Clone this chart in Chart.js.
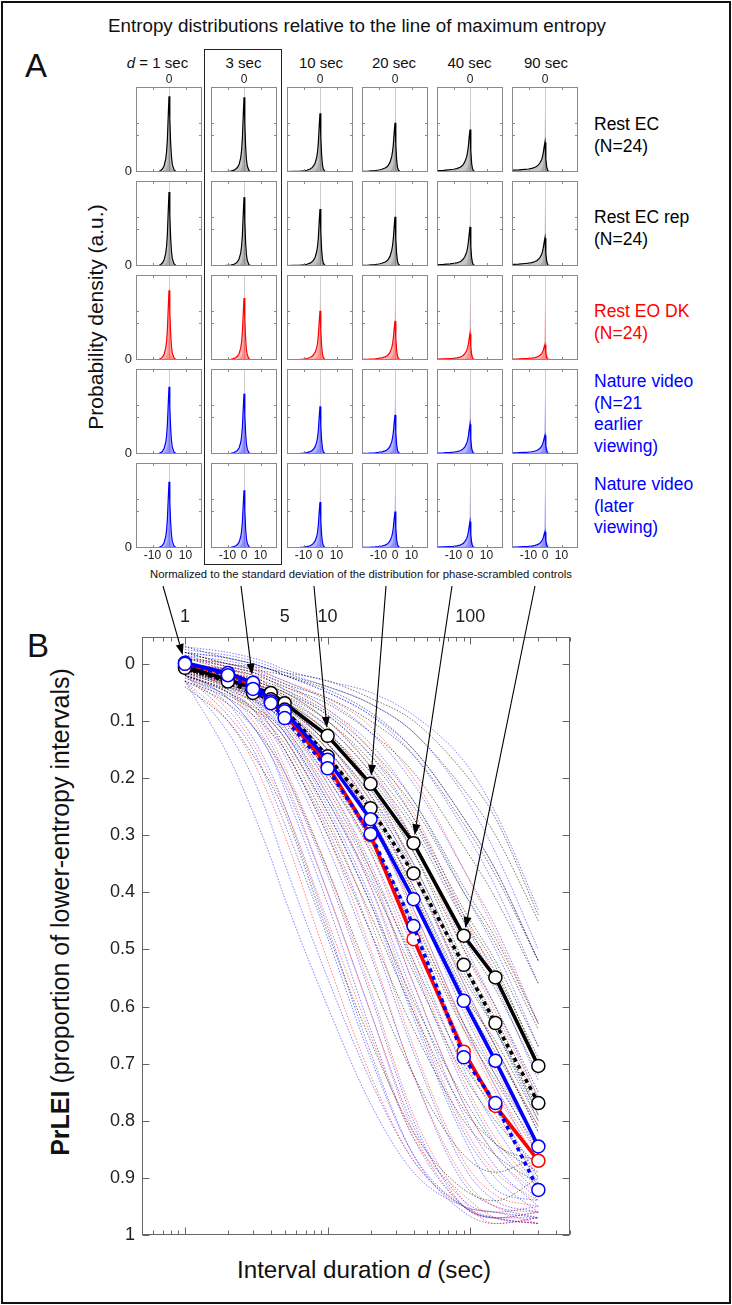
<!DOCTYPE html>
<html><head><meta charset="utf-8">
<script src="https://cdn.jsdelivr.net/npm/chart.js@4.4.1/dist/chart.umd.min.js"></script>
<style>
html,body{margin:0;padding:0;background:#fff;}
#page{position:relative;width:732px;height:1305px;overflow:hidden;font-family:"Liberation Sans",Arial,Helvetica,sans-serif;color:#111;background:#fff;}
.t{position:absolute;white-space:nowrap;line-height:1;transform:translate(-50%,-50%);}
.lbl{position:absolute;white-space:nowrap;font-size:17.5px;line-height:21.5px;}
canvas{position:absolute;}
</style></head><body><div id="page"></div>
<script>
// ---------------- DATA ----------------
// Panel A: entropy distributions (x grid, per-duration normalized shapes, per-row peak heights)
const distX      = [-20,-16,-12,-10,-8,-6,-5,-4,-3,-2,-1.5,-1,-0.5,0,0.5,1,1.5,2,3,4,20];
const shapeD1    = [0,0,0,0,0.003,0.01,0.02,0.04,0.08,0.17,0.26,0.42,0.72,1,0.70,0.38,0.20,0.10,0.03,0.01,0];
const shapeD3    = [0,0.002,0.005,0.008,0.012,0.025,0.04,0.06,0.10,0.19,0.28,0.44,0.73,1,0.66,0.33,0.16,0.08,0.02,0.005,0];
const shapeD10   = [0.005,0.01,0.015,0.02,0.03,0.05,0.07,0.10,0.15,0.25,0.34,0.50,0.77,1,0.60,0.28,0.12,0.05,0.01,0,0];
const shapeD20   = [0.015,0.02,0.03,0.04,0.055,0.08,0.10,0.14,0.20,0.31,0.41,0.56,0.80,1,0.55,0.24,0.10,0.04,0.01,0,0];
const shapeD40   = [0.03,0.04,0.055,0.065,0.08,0.11,0.14,0.18,0.25,0.36,0.46,0.60,0.82,1,0.50,0.20,0.08,0.03,0.005,0,0];
const shapeD90   = [0.06,0.07,0.09,0.10,0.12,0.16,0.19,0.24,0.31,0.42,0.52,0.66,0.85,1,0.45,0.18,0.06,0.02,0,0,0];
const controlShape = [0,0,0,0,0,0,0,0,0.02,0.05,0.08,0.14,0.35,1,0.35,0.14,0.08,0.05,0.02,0,0];
const durationHeaders = ["1 sec","3 sec","10 sec","20 sec","40 sec","90 sec"];
const peakRestEC    = [0.89,0.88,0.69,0.58,0.50,0.35];
const peakRestECrep = [0.87,0.81,0.67,0.58,0.46,0.33];
const peakRestEO    = [0.82,0.73,0.58,0.46,0.31,0.18];
const peakNatEarly  = [0.79,0.71,0.56,0.46,0.35,0.22];
const peakNatLate   = [0.78,0.68,0.54,0.43,0.31,0.19];
const ctrlRestEC    = [0.60,0.60,0.75,0.75,0.75,0.75];
const ctrlRestECrep = [0.60,0.60,0.75,0.75,0.75,0.75];
const ctrlRestEO    = [0.60,0.60,0.76,0.74,0.73,0.69];
const ctrlNatEarly  = [0.60,0.60,0.70,0.71,0.71,0.71];
const ctrlNatLate   = [0.60,0.60,0.70,0.72,0.72,0.72];
const smallXTicks = [-10,0,10];
const smallYTicks = [0.435,0.573];

// Panel B: PrLEI vs interval duration
const durations   = [1,2,3,4,5,10,20,40,90,150,300];
const meanRestEC    = [0.005,0.028,0.042,0.051,0.069,0.126,0.210,0.314,0.476,0.549,0.704];
const meanRestECrep = [0.007,0.031,0.051,0.062,0.080,0.162,0.253,0.367,0.527,0.629,0.769];
const meanRestEO    = [0.000,0.018,0.038,0.066,0.088,0.178,0.300,0.482,0.679,0.774,0.870];
const meanNatEarly  = [-0.002,0.016,0.033,0.066,0.083,0.168,0.272,0.412,0.590,0.695,0.845];
const meanNatLate   = [0.000,0.020,0.044,0.069,0.095,0.183,0.298,0.459,0.689,0.769,0.921];
const subjectsEC = [
 [-0.02,0.00,0.01,0.015,0.02,0.04,0.07,0.12,0.22,0.30,0.45],
 [-0.01,0.01,0.02,0.03,0.04,0.07,0.12,0.19,0.32,0.41,0.56],
 [0.00,0.02,0.03,0.04,0.05,0.09,0.16,0.25,0.40,0.49,0.64],
 [0.00,0.02,0.035,0.045,0.06,0.11,0.19,0.29,0.45,0.54,0.69],
 [0.01,0.03,0.04,0.05,0.065,0.12,0.20,0.31,0.48,0.57,0.72],
 [0.01,0.03,0.045,0.055,0.07,0.13,0.22,0.33,0.50,0.60,0.75],
 [0.01,0.035,0.05,0.06,0.08,0.15,0.25,0.37,0.55,0.64,0.78],
 [0.015,0.04,0.055,0.07,0.09,0.17,0.28,0.41,0.59,0.68,0.81],
 [0.02,0.045,0.065,0.08,0.10,0.20,0.32,0.46,0.64,0.73,0.85],
 [0.02,0.05,0.075,0.095,0.12,0.24,0.38,0.54,0.72,0.80,0.88],
 [0.03,0.06,0.09,0.12,0.15,0.30,0.47,0.64,0.80,0.86,0.91],
 [0.00,0.025,0.04,0.05,0.065,0.12,0.21,0.33,0.52,0.62,0.77],
 [0.005,0.03,0.05,0.06,0.075,0.14,0.23,0.35,0.53,0.63,0.79],
 [0.01,0.035,0.055,0.065,0.085,0.16,0.26,0.39,0.57,0.67,0.82],
 [0.04,0.10,0.16,0.21,0.26,0.47,0.66,0.82,0.92,0.94,0.90],
 [-0.03,-0.01,0.00,0.01,0.015,0.03,0.06,0.10,0.19,0.27,0.44],
 [-0.015,0.005,0.015,0.025,0.035,0.06,0.10,0.16,0.28,0.37,0.52],
 [0.025,0.055,0.08,0.10,0.13,0.26,0.42,0.59,0.76,0.84,0.87],
 [0.00,0.03,0.05,0.07,0.09,0.19,0.31,0.45,0.63,0.72,0.84],
 [0.01,0.04,0.06,0.08,0.11,0.22,0.36,0.52,0.70,0.78,0.87],
 [0.02,0.05,0.08,0.11,0.14,0.28,0.44,0.61,0.78,0.84,0.89],
 [-0.005,0.015,0.025,0.035,0.045,0.085,0.15,0.24,0.39,0.48,0.63],
 [0.005,0.02,0.035,0.045,0.055,0.10,0.17,0.27,0.43,0.52,0.67],
 [0.015,0.035,0.05,0.065,0.08,0.16,0.27,0.40,0.58,0.66,0.80],
 [-0.02,0.00,0.005,0.01,0.02,0.045,0.085,0.15,0.27,0.36,0.52],
 [0.03,0.07,0.11,0.15,0.19,0.36,0.55,0.72,0.86,0.89,0.86],
 [0.01,0.03,0.045,0.06,0.075,0.14,0.24,0.36,0.54,0.64,0.79],
 [0.00,0.02,0.03,0.04,0.05,0.10,0.18,0.28,0.44,0.53,0.70]
];
const subjectsEO = [
 [-0.01,0.00,0.01,0.02,0.03,0.06,0.11,0.20,0.36,0.47,0.63],
 [0.00,0.01,0.02,0.04,0.05,0.10,0.18,0.31,0.50,0.61,0.76],
 [0.00,0.015,0.03,0.05,0.07,0.14,0.24,0.40,0.60,0.71,0.84],
 [0.005,0.02,0.04,0.065,0.09,0.18,0.30,0.48,0.69,0.79,0.90],
 [0.01,0.025,0.045,0.075,0.10,0.21,0.36,0.56,0.77,0.86,0.93],
 [0.01,0.03,0.06,0.10,0.13,0.27,0.45,0.67,0.87,0.93,0.95],
 [0.02,0.04,0.08,0.13,0.18,0.36,0.57,0.79,0.94,0.98,0.97],
 [0.00,0.02,0.035,0.06,0.08,0.16,0.27,0.44,0.64,0.75,0.87],
 [0.015,0.035,0.07,0.11,0.15,0.30,0.50,0.72,0.90,0.95,0.96],
 [0.02,0.08,0.14,0.20,0.25,0.45,0.65,0.83,0.93,0.97,0.98],
 [0.00,0.015,0.03,0.055,0.075,0.15,0.26,0.43,0.63,0.74,0.86],
 [0.01,0.03,0.05,0.085,0.11,0.23,0.39,0.60,0.81,0.89,0.94],
 [0.02,0.05,0.10,0.15,0.20,0.40,0.61,0.82,0.95,0.97,0.96],
 [-0.01,0.005,0.015,0.03,0.04,0.08,0.15,0.26,0.44,0.55,0.71],
 [0.005,0.02,0.04,0.07,0.095,0.19,0.33,0.52,0.73,0.83,0.92],
 [0.03,0.10,0.17,0.24,0.30,0.52,0.72,0.87,0.95,0.96,0.98],
 [0.00,0.01,0.025,0.045,0.06,0.12,0.21,0.36,0.56,0.67,0.81]
];
const subjectsNat = [
 [-0.03,-0.02,-0.01,0.00,0.01,0.03,0.05,0.09,0.17,0.26,0.43],
 [-0.02,-0.01,0.00,0.01,0.02,0.05,0.09,0.16,0.29,0.39,0.56],
 [-0.01,0.00,0.01,0.025,0.035,0.08,0.14,0.24,0.40,0.50,0.67],
 [0.00,0.01,0.02,0.04,0.055,0.11,0.19,0.31,0.49,0.60,0.76],
 [0.00,0.015,0.03,0.055,0.07,0.14,0.23,0.37,0.56,0.67,0.82],
 [0.00,0.02,0.04,0.065,0.085,0.17,0.28,0.43,0.63,0.74,0.88],
 [0.005,0.025,0.05,0.08,0.10,0.20,0.33,0.50,0.71,0.81,0.92],
 [0.01,0.03,0.06,0.095,0.12,0.24,0.39,0.58,0.79,0.88,0.95],
 [0.01,0.04,0.07,0.11,0.15,0.29,0.47,0.68,0.88,0.94,0.96],
 [0.02,0.05,0.09,0.14,0.19,0.37,0.58,0.80,0.95,0.97,0.98],
 [0.03,0.16,0.26,0.34,0.41,0.60,0.77,0.89,0.95,0.96,0.97],
 [0.02,0.07,0.13,0.19,0.25,0.46,0.68,0.86,0.96,0.98,0.97],
 [0.00,0.02,0.035,0.06,0.08,0.15,0.25,0.39,0.58,0.69,0.84],
 [0.005,0.025,0.045,0.075,0.095,0.19,0.31,0.47,0.68,0.78,0.91],
 [-0.01,0.005,0.015,0.03,0.045,0.09,0.16,0.27,0.45,0.56,0.73],
 [0.01,0.035,0.065,0.10,0.13,0.26,0.42,0.62,0.83,0.92,0.94],
 [-0.025,-0.015,-0.005,0.005,0.015,0.04,0.07,0.12,0.23,0.33,0.50],
 [0.015,0.06,0.11,0.16,0.21,0.40,0.61,0.81,0.94,0.96,0.95],
 [0.00,0.02,0.04,0.07,0.09,0.18,0.30,0.46,0.67,0.77,0.90],
 [0.01,0.03,0.055,0.09,0.115,0.23,0.37,0.56,0.77,0.86,0.94],
 [0.02,0.06,0.11,0.16,0.22,0.42,0.64,0.83,0.95,0.97,0.96],
 [0.03,0.12,0.20,0.28,0.35,0.55,0.73,0.87,0.95,0.97,0.98],
 [-0.015,-0.005,0.005,0.02,0.03,0.065,0.12,0.21,0.36,0.46,0.63],
 [0.005,0.02,0.04,0.06,0.08,0.16,0.27,0.41,0.61,0.72,0.86],
 [0.00,0.015,0.03,0.05,0.065,0.13,0.22,0.35,0.53,0.64,0.80],
 [0.015,0.045,0.08,0.12,0.16,0.32,0.51,0.72,0.91,0.95,0.97],
 [0.01,0.035,0.06,0.09,0.12,0.25,0.41,0.61,0.82,0.90,0.96],
 [-0.02,-0.01,0.00,0.01,0.02,0.05,0.09,0.15,0.27,0.36,0.52],
 [0.02,0.09,0.15,0.22,0.28,0.48,0.69,0.86,0.95,0.97,0.97],
 [0.005,0.03,0.05,0.08,0.105,0.21,0.35,0.53,0.74,0.84,0.93]
];
const xTickLabels = [1,5,10,100];
const yTickValues = [0,0.1,0.2,0.3,0.4,0.5,0.6,0.7,0.8,0.9,1];
const arrowTargets = [1,3,10,20,40,90];

// ---------------- LAYOUT / TEXT ----------------
const page = document.getElementById('page');
function addText(html, x, y, size, extra){
  const d=document.createElement('div'); d.className='t'; d.innerHTML=html;
  d.style.left=x+'px'; d.style.top=y+'px'; d.style.fontSize=size+'px';
  if(extra) Object.assign(d.style, extra);
  page.appendChild(d); return d;
}
function addBox(l,t,w,h,border){
  const d=document.createElement('div'); Object.assign(d.style,{position:'absolute',left:l+'px',top:t+'px',width:w+'px',height:h+'px',border:border,boxSizing:'border-box'});
  page.appendChild(d);
}
addBox(1,1,730,1303,'2px solid #111');
addText('Entropy distributions relative to the line of maximum entropy',357,26,18.8);
addText('A',36,65,33);
addText('B',38,645,33);
const headerX=[157.5,243.5,321,394,469.5,546];
durationHeaders.forEach((h,i)=>addText(i===0?'<i>d</i> = '+h:h, headerX[i], 62, 15));
addBox(204,49,78,516,'1.6px solid #222');
addText('Probability density (a.u.)',95,317,21,{transform:'translate(-50%,-50%) rotate(-90deg)'});
addText('Normalized to the standard deviation of the distribution for phase-scrambled controls',361,575,11.3);
addText('Interval duration <i>d</i> (sec)',364,1270,24.2);
addText('<b>PrLEI</b> (proportion of lower-entropy intervals)',60,912,25,{transform:'translate(-50%,-50%) rotate(-90deg)'});

const rowLabels=[
  {lines:['Rest EC','(N=24)'],top:114,color:'#000'},
  {lines:['Rest EC rep','(N=24)'],top:207,color:'#000'},
  {lines:['Rest EO DK','(N=24)'],top:301,color:'#ff0000'},
  {lines:['Nature video','(N=21','earlier','viewing)'],top:371,color:'#0000ff'},
  {lines:['Nature video','(later','viewing)'],top:474,color:'#0000ff'}
];
rowLabels.forEach(r=>{const d=document.createElement('div'); d.className='lbl'; d.style.left='594px'; d.style.top=r.top+'px'; d.style.color=r.color; d.innerHTML=r.lines.join('<br>'); page.appendChild(d);});

Chart.defaults.font.family='"Liberation Sans", Arial, sans-serif';
Chart.defaults.color='#111';

// ---------------- PANEL A ----------------
const shapes=[shapeD1,shapeD3,shapeD10,shapeD20,shapeD40,shapeD90];
const rowsSpec=[
 {peaks:peakRestEC,   ctrl:ctrlRestEC,   line:'#000',    fill:'rgba(0,0,0,0.22)',   cfill:'rgba(0,0,0,0.14)'},
 {peaks:peakRestECrep,ctrl:ctrlRestECrep,line:'#000',    fill:'rgba(0,0,0,0.22)',   cfill:'rgba(0,0,0,0.14)'},
 {peaks:peakRestEO,   ctrl:ctrlRestEO,   line:'#ff0000', fill:'rgba(255,0,0,0.28)', cfill:'rgba(255,0,0,0.22)'},
 {peaks:peakNatEarly, ctrl:ctrlNatEarly, line:'#0000ff', fill:'rgba(0,0,255,0.28)', cfill:'rgba(0,0,255,0.22)'},
 {peaks:peakNatLate,  ctrl:ctrlNatLate,  line:'#0000ff', fill:'rgba(0,0,255,0.28)', cfill:'rgba(0,0,255,0.22)'}
];
const colLeft=[136,211,287,362,437,512], rowTop=[87,181,275,369,463], PW=66, PH=85;
const PADL=20, PADT=16, PADB=18;
const panelDeco={
  id:'panelDeco',
  beforeDatasetsDraw(chart,args,o){
    const {ctx,chartArea:a,scales:{x}}=chart;
    const x0=Math.round(x.getPixelForValue(0))+0.5;
    ctx.save(); ctx.strokeStyle='#cdcdcd'; ctx.lineWidth=1;
    ctx.beginPath(); ctx.moveTo(x0,a.top); ctx.lineTo(x0,a.bottom); ctx.stroke(); ctx.restore();
  },
  afterDatasetsDraw(chart,args,o){
    const {ctx,chartArea:a,scales:{x,y}}=chart;
    const L=Math.round(a.left)+0.5,R=Math.round(a.right)-0.5,T=Math.round(a.top)+0.5,B=Math.round(a.bottom)-0.5;
    ctx.save(); ctx.strokeStyle='#8a8a8a'; ctx.lineWidth=1;
    ctx.strokeRect(L,T,R-L,B-T);
    ctx.beginPath();
    smallXTicks.forEach(v=>{ if(v===0) return; const p=Math.round(x.getPixelForValue(v))+0.5; ctx.moveTo(p,T); ctx.lineTo(p,T+2.5); ctx.moveTo(p,B); ctx.lineTo(p,B-2.5);});
    smallYTicks.forEach(v=>{ const p=Math.round(y.getPixelForValue(v))+0.5; ctx.moveTo(L,p); ctx.lineTo(L+2.5,p); ctx.moveTo(R,p); ctx.lineTo(R-2.5,p);});
    ctx.stroke();
    ctx.fillStyle='#222'; ctx.font='12px "Liberation Sans", Arial'; ctx.textAlign='center'; ctx.textBaseline='middle';
    if(o.row===0) ctx.fillText('0',x.getPixelForValue(0),a.top-7);
    if(o.row===4) smallXTicks.forEach(v=>ctx.fillText(String(v),x.getPixelForValue(v),a.bottom+8));
    if(o.col===0){ ctx.textAlign='right'; ctx.font='13px "Liberation Sans", Arial'; ctx.fillText('0',a.left-4,a.bottom-1); }
    ctx.restore();
  }
};
rowsSpec.forEach((rs,r)=>{
  shapes.forEach((sh,c)=>{
    const cv=document.createElement('canvas');
    const W=PW+PADL, H=PH+PADT+PADB;
    cv.width=W; cv.height=H; cv.style.width=W+'px'; cv.style.height=H+'px';
    cv.style.left=(colLeft[c]-PADL)+'px'; cv.style.top=(rowTop[r]-PADT)+'px';
    page.appendChild(cv);
    new Chart(cv,{type:'line',
      data:{datasets:[
        {data:distX.map((xv,i)=>({x:xv,y:sh[i]*rs.peaks[c]})),borderColor:rs.line,borderWidth:1.2,backgroundColor:rs.fill,fill:'origin',pointRadius:0,tension:0},
        {data:distX.map((xv,i)=>({x:xv,y:controlShape[i]*rs.ctrl[c]})),borderColor:'rgba(0,0,0,0)',borderWidth:0,backgroundColor:rs.cfill,fill:'origin',pointRadius:0,tension:0}
      ]},
      options:{responsive:false,animation:false,events:[],devicePixelRatio:1,
        layout:{padding:{left:PADL,right:0,top:PADT,bottom:PADB}},
        plugins:{legend:{display:false},tooltip:{enabled:false},panelDeco:{row:r,col:c}},
        scales:{x:{type:'linear',min:-20,max:20,display:false},y:{min:0,max:1,display:false}}},
      plugins:[panelDeco]});
  });
});

// ---------------- PANEL B ----------------
const BTOP=578;
const arrowStarts=[[163,586],[241,586],[314,586],[386,586],[452,586],[535,586]];
const meanSeries=[meanRestEC,meanRestECrep,meanRestEO,meanNatEarly,meanNatLate];
const cvB=document.createElement('canvas');
cvB.width=732; cvB.height=722; cvB.style.width='732px'; cvB.style.height='722px'; cvB.style.left='0px'; cvB.style.top=BTOP+'px';
page.appendChild(cvB);
const pts=a=>durations.map((d,i)=>({x:d,y:a[i]}));
const datasets=[];
const mk=(arr,color)=>({data:pts(arr),borderColor:color,borderWidth:1,borderDash:[1.5,1.5],pointRadius:0,fill:false,cubicInterpolationMode:'monotone',order:10});
subjectsEC.forEach(s=>datasets.push(mk(s,'rgba(0,0,0,0.55)')));
subjectsEO.forEach(s=>datasets.push(mk(s,'rgba(255,0,0,0.5)')));
subjectsNat.forEach(s=>datasets.push(mk(s,'rgba(0,0,255,0.5)')));
const meanStyle=(arr,color,dash,order)=>({data:pts(arr),borderColor:color,borderWidth:3.6,borderDash:dash,pointRadius:6.5,pointBorderWidth:1.5,pointBackgroundColor:'#fff',pointBorderColor:color,fill:false,tension:0,order:order});
datasets.push(meanStyle(meanRestEC,'#000',[],5));
datasets.push(meanStyle(meanRestECrep,'#000',[4,4],4));
datasets.push(meanStyle(meanRestEO,'#ff0000',[],3));
datasets.push(meanStyle(meanNatEarly,'#0000ff',[],2));
datasets.push(meanStyle(meanNatLate,'#0000ff',[4,4],1));

const bDeco={
  id:'bDeco',
  afterDraw(chart){
    const {ctx,chartArea:a,scales:{x,y}}=chart;
    const L=Math.round(a.left)+0.5,R=Math.round(a.right)-0.5,T=Math.round(a.top)+0.5,B=Math.round(a.bottom)-0.5;
    ctx.save(); ctx.strokeStyle='#666'; ctx.lineWidth=1;
    ctx.strokeRect(L,T,R-L,B-T);
    ctx.beginPath();
    yTickValues.forEach(v=>{const p=Math.round(y.getPixelForValue(v))+0.5; ctx.moveTo(L,p); ctx.lineTo(L+7,p); ctx.moveTo(R,p); ctx.lineTo(R-7,p);});
    [0.5,1,10,100].forEach(dec=>{
      for(let k=1;k<10;k++){
        const v=dec===0.5?(k>=5?k/10:null):k*dec;
        if(v===null) continue;
        if(v>500.0001) break;
        const p=Math.round(x.getPixelForValue(v))+0.5;
        const len=(k===1)?7:4;
        ctx.moveTo(p,T); ctx.lineTo(p,T+len); ctx.moveTo(p,B); ctx.lineTo(p,B-len);
      }
    });
    ctx.stroke();
    // arrows from panel A to panel B markers
    ctx.strokeStyle='#000'; ctx.fillStyle='#000'; ctx.lineWidth=1.1;
    arrowTargets.forEach((d,i)=>{
      const idx=durations.indexOf(d);
      const v=Math.min(...meanSeries.map(s=>s[idx]));
      const tx=x.getPixelForValue(d), ty=y.getPixelForValue(v);
      const sx=arrowStarts[i][0], sy=arrowStarts[i][1]-BTOP;
      const dx=tx-sx, dy=ty-sy, len=Math.hypot(dx,dy), ux=dx/len, uy=dy/len;
      const tipX=tx-ux*8, tipY=ty-uy*8;
      const bx=tipX-ux*11, by=tipY-uy*11;
      ctx.beginPath(); ctx.moveTo(sx,sy); ctx.lineTo(bx,by); ctx.stroke();
      ctx.beginPath(); ctx.moveTo(tipX,tipY); ctx.lineTo(bx-uy*4,by+ux*4); ctx.lineTo(bx+uy*4,by-ux*4); ctx.closePath(); ctx.fill();
    });
    ctx.restore();
  }
};
new Chart(cvB,{type:'line',data:{datasets},
  options:{responsive:false,animation:false,events:[],devicePixelRatio:1,
    layout:{padding:{left:70,right:162,top:0,bottom:65}},
    plugins:{legend:{display:false},tooltip:{enabled:false}},
    scales:{
      x:{type:'logarithmic',position:'top',min:0.5,max:500,
        grid:{display:false,drawTicks:false},border:{display:false},
        ticks:{font:{size:18},color:'#222',padding:9,autoSkip:false,maxRotation:0,callback:(v)=>String(v)},
        afterBuildTicks:(s)=>{s.ticks=xTickLabels.map(v=>({value:v}));},
        afterFit:(s)=>{s.height=59;}},
      y:{type:'linear',reverse:true,min:-0.047,max:1,
        grid:{display:false,drawTicks:false},border:{display:false},
        ticks:{font:{size:18},color:'#222',padding:7,callback:(v)=>(v===0?'0':v===1?'1':v.toFixed(1))},
        afterBuildTicks:(s)=>{s.ticks=yTickValues.map(v=>({value:v}));},
        afterFit:(s)=>{s.width=72;}}
    }},
  plugins:[bDeco]});
</script></body></html>
